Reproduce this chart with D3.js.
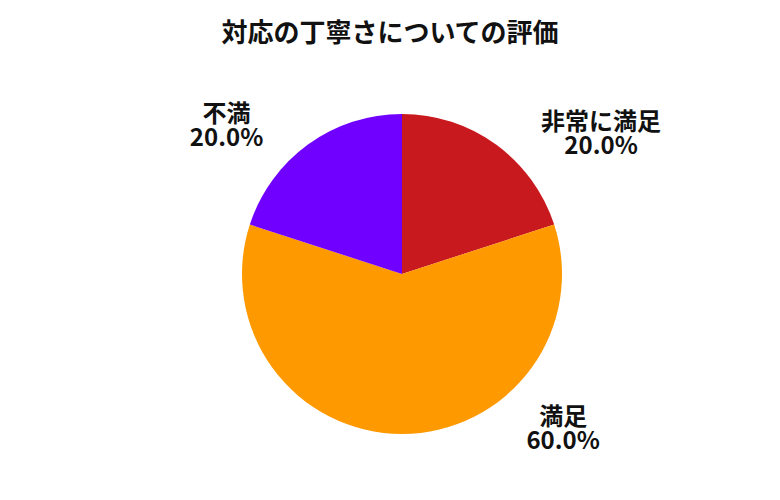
<!DOCTYPE html>
<html><head><meta charset="utf-8">
<script src="https://cdn.jsdelivr.net/npm/d3@7"></script>
<style>body{margin:0;background:#fff}svg{display:block}</style>
</head><body>
<svg id="c" width="780" height="500"></svg>
<script>
const title = "対応の丁寧さについての評価";
const categories = ["非常に満足", "満足", "不満"];
const values = [20, 60, 20];
const colors = ["#C8191E", "#FF9900", "#7000FF"];
// label placement (angle in degrees from 12 o'clock, distance from centre)
const labelAngles = [55, 134, -50];
const labelDist = [243, 224, 229];

const svg = d3.select("#c");
const cx = 402, cy = 274, R = 160;
const font = "'Noto Sans CJK JP','Noto Sans',sans-serif";

svg.append("text").attr("x", 390).attr("y", 42).attr("text-anchor", "middle")
  .attr("font-family", font).attr("font-weight", 700).attr("font-size", 26)
  .attr("fill", "#111").text(title);

const total = d3.sum(values);
const pie = d3.pie().sort(null).value(d => d)(values);
const arc = d3.arc().innerRadius(0).outerRadius(R);
const g = svg.append("g").attr("transform", `translate(${cx},${cy})`);
g.selectAll("path").data(pie).join("path")
  .attr("d", arc).attr("fill", (d, i) => colors[i]);

const fmt = d3.format(".1f");
const lab = g.selectAll("g.lab").data(pie).join("g").attr("class", "lab")
  .attr("transform", (d, i) => {
    const a = labelAngles[i] * Math.PI / 180;
    return `translate(${labelDist[i] * Math.sin(a)},${-labelDist[i] * Math.cos(a)})`;
  });
lab.each(function(d, i) {
  const sel = d3.select(this);
  const lines = [categories[i], fmt(values[i] / total * 100) + "%"];
  lines.forEach((s, k) => {
    sel.append("text").attr("text-anchor", "middle").attr("x", 0).attr("y", k === 0 ? -5 : 19)
      .attr("font-family", font).attr("font-weight", 700).attr("font-size", 24)
      .attr("fill", "#111").attr("stroke", "#fff").attr("stroke-width", 3)
      .attr("paint-order", "stroke").text(s);
  });
});
</script>
</body></html>
